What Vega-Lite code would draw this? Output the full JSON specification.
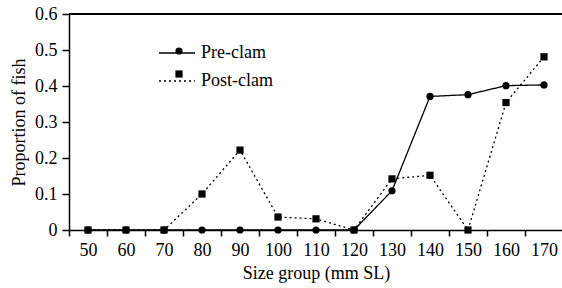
{
  "$schema": "https://vega.github.io/schema/vega-lite/v6.json",
  "autosize": {"type": "none"},
  "width": 494,
  "height": 216,
  "padding": {"left": 69, "top": 14, "right": 0, "bottom": 58},
  "background": "white",
  "config": {
    "font": "Liberation Serif",
    "view": {"stroke": null},
    "axis": {
      "labelFont": "Liberation Serif",
      "titleFont": "Liberation Serif",
      "labelFontSize": 18,
      "titleFontSize": 18,
      "titleFontWeight": "normal",
      "labelColor": "black",
      "titleColor": "black",
      "domainColor": "black",
      "tickColor": "black",
      "domainWidth": 1.5,
      "tickWidth": 1.5,
      "grid": false
    },
    "legend": {
      "labelFont": "Liberation Serif",
      "labelFontSize": 18,
      "labelColor": "black",
      "padding": 0
    }
  },
  "data": {
    "values": [
      {"size": 50, "series": "Pre-clam", "value": 0},
      {"size": 60, "series": "Pre-clam", "value": 0},
      {"size": 70, "series": "Pre-clam", "value": 0},
      {"size": 80, "series": "Pre-clam", "value": 0},
      {"size": 90, "series": "Pre-clam", "value": 0},
      {"size": 100, "series": "Pre-clam", "value": 0},
      {"size": 110, "series": "Pre-clam", "value": 0},
      {"size": 120, "series": "Pre-clam", "value": 0},
      {"size": 130, "series": "Pre-clam", "value": 0.109},
      {"size": 140, "series": "Pre-clam", "value": 0.371},
      {"size": 150, "series": "Pre-clam", "value": 0.376},
      {"size": 160, "series": "Pre-clam", "value": 0.401},
      {"size": 170, "series": "Pre-clam", "value": 0.403},
      {"size": 50, "series": "Post-clam", "value": 0},
      {"size": 60, "series": "Post-clam", "value": 0},
      {"size": 70, "series": "Post-clam", "value": 0},
      {"size": 80, "series": "Post-clam", "value": 0.1},
      {"size": 90, "series": "Post-clam", "value": 0.222},
      {"size": 100, "series": "Post-clam", "value": 0.036},
      {"size": 110, "series": "Post-clam", "value": 0.031},
      {"size": 120, "series": "Post-clam", "value": 0},
      {"size": 130, "series": "Post-clam", "value": 0.142},
      {"size": 140, "series": "Post-clam", "value": 0.152},
      {"size": 150, "series": "Post-clam", "value": 0},
      {"size": 160, "series": "Post-clam", "value": 0.354},
      {"size": 170, "series": "Post-clam", "value": 0.481}
    ]
  },
  "encoding": {
    "x": {
      "field": "size",
      "type": "ordinal",
      "scale": {"type": "band", "paddingInner": 0, "paddingOuter": 0},
      "axis": {
        "title": "Size group (mm SL)",
        "labelAngle": 0,
        "tickBand": "extent",
        "tickSize": 6,
        "labelPadding": 5,
        "titlePadding": 5
      }
    },
    "y": {
      "field": "value",
      "type": "quantitative",
      "scale": {"domain": [0, 0.6], "nice": false},
      "axis": {
        "title": "Proportion of fish",
        "values": [0, 0.1, 0.2, 0.3, 0.4, 0.5, 0.6],
        "format": ".1~f",
        "tickSize": 7,
        "labelPadding": 5,
        "titlePadding": 6
      }
    }
  },
  "layer": [
    {
      "mark": {"type": "rule", "color": "black", "strokeWidth": 1.5},
      "encoding": {"y": {"datum": 0.6}, "x": null}
    },
    {
      "mark": {"type": "line", "color": "black", "strokeWidth": 1.3},
      "encoding": {
        "detail": {"field": "series"},
        "strokeDash": {
          "field": "series",
          "type": "nominal",
          "scale": {"domain": ["Pre-clam", "Post-clam"], "range": [[1, 0], [2, 3]]},
          "legend": {
            "title": null,
            "orient": "none",
            "legendX": 89,
            "legendY": 20,
            "symbolType": "stroke",
            "symbolSize": 1296,
            "symbolStrokeWidth": 1.3,
            "symbolStrokeColor": "black",
            "labelOffset": 5,
            "rowPadding": -13
          }
        }
      }
    },
    {
      "mark": {"type": "point", "filled": true, "color": "black", "opacity": 1, "size": 52},
      "encoding": {
        "shape": {
          "field": "series",
          "type": "nominal",
          "scale": {"domain": ["Post-clam", "Pre-clam"], "range": ["square", "circle"]},
          "legend": {
            "title": null,
            "orient": "none",
            "legendX": 101,
            "legendY": 28,
            "values": ["Pre-clam", "Post-clam"],
            "symbolFillColor": "black",
            "symbolStrokeColor": "black",
            "symbolOpacity": 1,
            "symbolSize": 52,
            "labelExpr": "''",
            "rowPadding": 5
          }
        }
      }
    }
  ]
}
